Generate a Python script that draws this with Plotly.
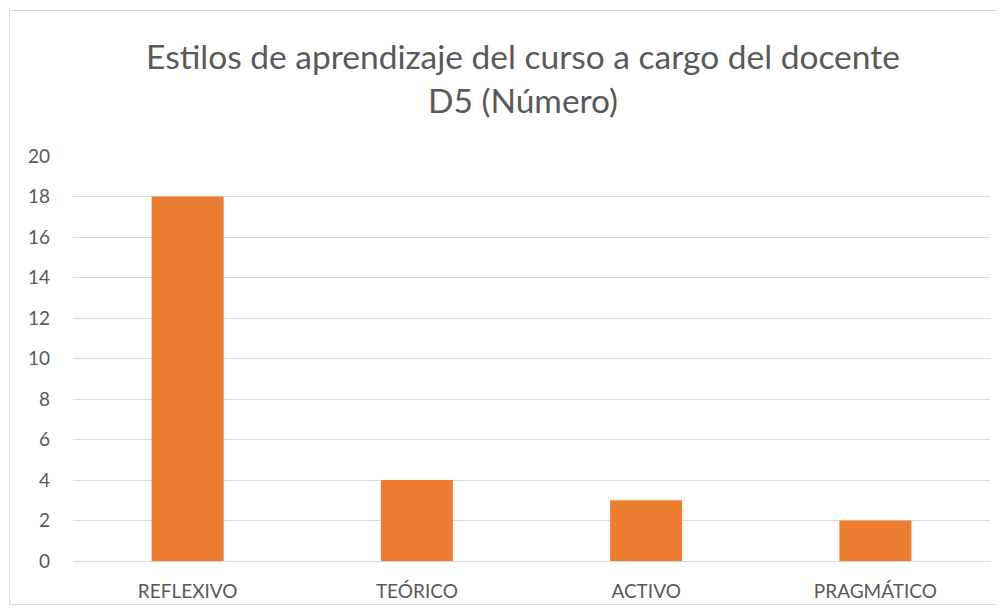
import plotly.graph_objects as go

categories = ["REFLEXIVO", "TEÓRICO", "ACTIVO", "PRAGMÁTICO"]
values = [18, 4, 3, 2]
y_ticks = [0, 2, 4, 6, 8, 10, 12, 14, 16, 18, 20]

# page has an 8px body margin; figure coordinates are page - 8
OFF = 8
W, H = 1005 - OFF, 615 - OFF
L, R, T, B = 73 - OFF, 1005 - 990, 156 - OFF, 615 - 561
pw, ph = W - L - R, H - T - B

def px_x(p):
    return (p - OFF - L) / pw

def px_y(p):
    return (H - B - (p - OFF)) / ph

fig = go.Figure(go.Bar(x=categories, y=values, marker_color="#ED7D31",
                       marker_line_width=0))

fig.update_layout(
    width=W, height=H,
    margin=dict(l=L, r=R, t=T, b=B),
    paper_bgcolor="white", plot_bgcolor="white",
    font=dict(family="Lato, Open Sans, sans-serif", color="#595959", size=19),
    bargap=0.686,
    showlegend=False,
    title=dict(text="Estilos de aprendizaje del curso a cargo del docente<br>D5 (Número)",
               x=px_x(523), xanchor="center", y=1 - (69 - OFF) / H, yanchor="middle",
               xref="paper",
               font=dict(size=33.5, color="#595959")),
    xaxis=dict(showgrid=False, showline=True, linecolor="#D9D9D9", linewidth=1,
               ticks="", ticklabelstandoff=13, tickfont=dict(size=19, color="#595959")),
    yaxis=dict(range=[0, 20], tickvals=y_ticks, showgrid=True, gridcolor="#D9D9D9",
               gridwidth=1, zeroline=False, showline=False, ticks="",
               ticklabelstandoff=22, tickfont=dict(size=19, color="#595959")),
    shapes=[dict(type="rect", xref="paper", yref="paper",
                 x0=px_x(9.5), x1=px_x(999.5), y0=px_y(604.5), y1=px_y(10.5),
                 line=dict(color="#D9D9D9", width=1), fillcolor="rgba(0,0,0,0)",
                 layer="below")],
)

fig.write_html("out.html")
